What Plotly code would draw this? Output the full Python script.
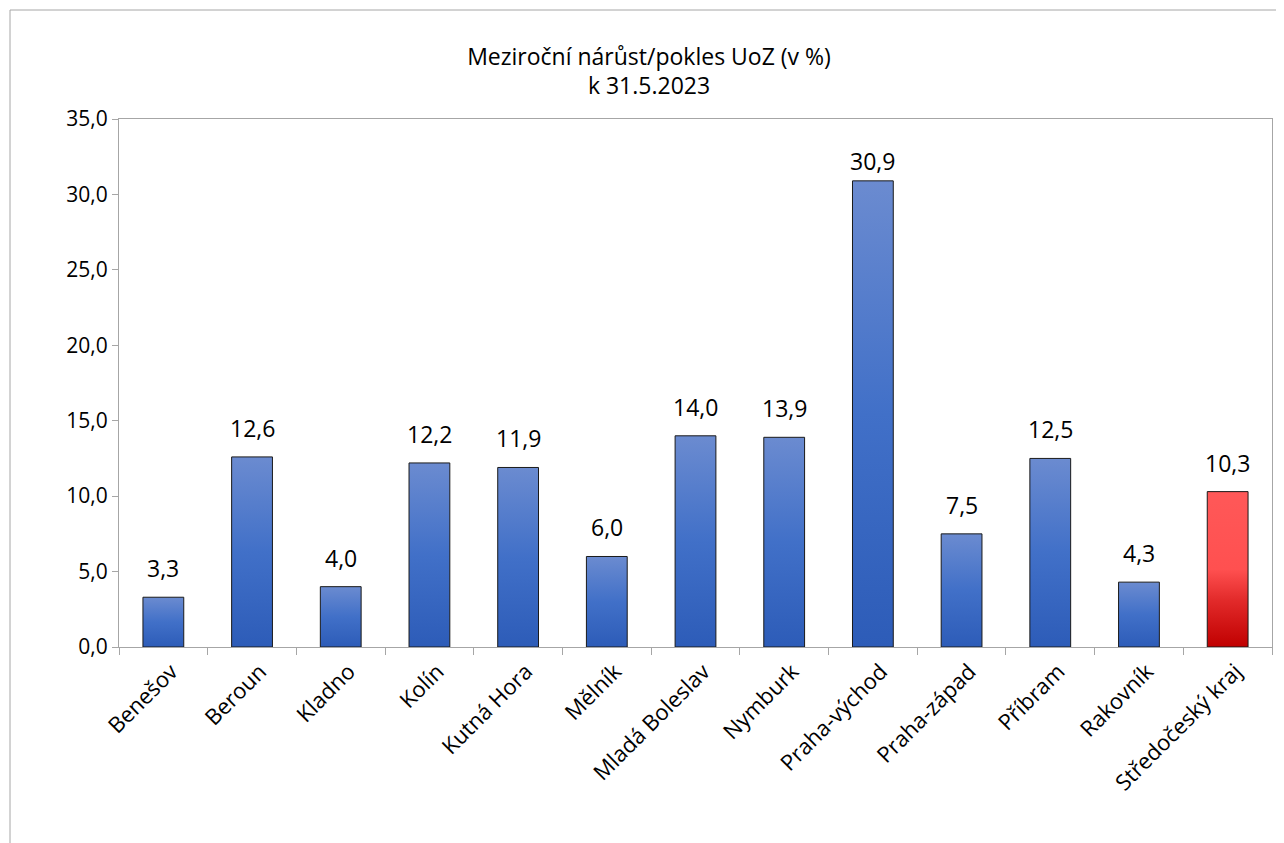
import plotly.graph_objects as go

categories = ["Benešov", "Beroun", "Kladno", "Kolín", "Kutná Hora", "Mělník",
              "Mladá Boleslav", "Nymburk", "Praha-východ", "Praha-západ",
              "Příbram", "Rakovník", "Středočeský kraj"]
values = [3.3, 12.6, 4.0, 12.2, 11.9, 6.0, 14.0, 13.9, 30.9, 7.5, 12.5, 4.3, 10.3]
y_ticks = [0, 5, 10, 15, 20, 25, 30, 35]

blue_scale = [[0, "#2d5cb8"], [0.5, "#4170c8"], [1, "#6b8bd0"]]
red_scale = [[0, "#c00000"], [0.3, "#e22a2a"], [0.5, "#ff5050"], [1, "#ff5858"]]

FONT = "Open Sans"
OFF = 8  # page body margin
W, H = 1284 - OFF, 843 - OFF
L, T = 119 - OFF, 119 - OFF
R = W - (1272 - OFF)
B = H - (647 - OFF)
BAR_W = 0.46
Y_MAX = 35

fig = go.Figure()
n = len(categories)
for i, (c, v) in enumerate(zip(categories, values)):
    scale = red_scale if i == n - 1 else blue_scale
    x0, x1 = i - BAR_W / 2, i + BAR_W / 2
    fig.add_trace(go.Scatter(
        x=[x0, x1, x1, x0, x0], y=[0, 0, v, v, 0],
        mode="lines", fill="toself",
        fillgradient=dict(type="vertical", colorscale=scale, start=0, stop=v),
        line=dict(color="#1a1a1a", width=1),
        name=c, hoverinfo="name", hoveron="fills",
    ))
    # labels near the top of the plot area sit closer to their bar
    shift = 2 if v > Y_MAX - 5 else 11
    fig.add_annotation(x=i, y=v, text=f"{v:.1f}".replace(".", ","),
                       showarrow=False, yanchor="bottom", yshift=shift,
                       font=dict(family=FONT, size=23, color="#000000"))

pw = W - L - R
ph = H - T - B
fig.add_shape(type="rect", xref="paper", yref="paper",
              x0=(10 - OFF - L) / pw, x1=(W + 20 - L) / pw,
              y0=(H - B - (H + 20)) / ph, y1=(H - B - (10 - OFF)) / ph,
              line=dict(color="#a6a6a6", width=1), fillcolor="rgba(0,0,0,0)",
              layer="below")

fig.update_layout(
    width=W, height=H,
    margin=dict(l=L, r=R, t=T, b=B),
    paper_bgcolor="white", plot_bgcolor="white",
    separators=", ",
    showlegend=False,
    font=dict(family=FONT, color="#000000"),
    title=dict(text="Meziroční nárůst/pokles UoZ (v %)<br>k 31.5.2023",
               x=(649 - OFF) / W, xref="container", xanchor="center",
               y=1 - (64.5 - OFF) / H, yref="container", yanchor="middle",
               font=dict(family=FONT, size=23, color="#000000")),
)
fig.update_yaxes(range=[0, Y_MAX], tickvals=y_ticks, tickformat=".1f",
                 showgrid=False, zeroline=False,
                 showline=True, linecolor="#a6a6a6", linewidth=1, mirror=True,
                 ticks="outside", ticklen=6, tickcolor="#a6a6a6",
                 tickfont=dict(family=FONT, size=21, color="#000000"))
fig.update_xaxes(range=[-0.5, n - 0.5], tickvals=list(range(n)), ticktext=categories,
                 showgrid=False, zeroline=False,
                 showline=True, linecolor="#a6a6a6", linewidth=1, mirror=True,
                 ticks="", tickangle=-45, ticklabelshift=8, ticklabelstandoff=2,
                 minor=dict(tickvals=[i - 0.5 for i in range(n + 1)], ticks="outside",
                            ticklen=7, tickcolor="#a6a6a6", showgrid=False),
                 tickfont=dict(family=FONT, size=22, color="#000000"))

fig.write_html("out.html")
